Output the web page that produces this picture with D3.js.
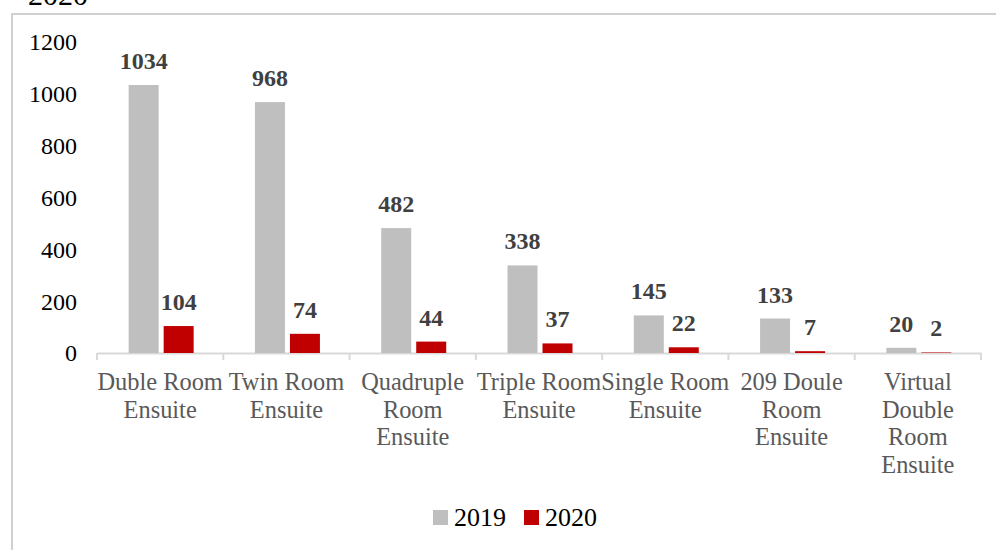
<!DOCTYPE html>
<html><head><meta charset="utf-8">
<script src="https://cdn.jsdelivr.net/npm/d3@7"></script>
<style>body{margin:0;background:#fff;} svg{display:block;}</style>
</head><body>
<svg id="c" width="996" height="550"></svg>
<script>
const categories = ["Duble Room Ensuite","Twin Room Ensuite","Quadruple Room Ensuite","Triple Room Ensuite","Single Room Ensuite","209 Doule Room Ensuite","Virtual Double Room Ensuite"];
const seriesNames = ["2019","2020"];
const values2019 = [1034,968,482,338,145,133,20];
const values2020 = [104,74,44,37,22,7,2];
const yTicks = [0,200,400,600,800,1000,1200];
const colors = ["#BFBFBF","#C00000"];

const svg = d3.select("#c");
const font = "'Liberation Serif','Times New Roman',serif";

// frame
svg.append("rect").attr("x",12).attr("y",14).attr("width",1100).attr("height",700)
  .attr("fill","none").attr("stroke","#D0D0D0").attr("stroke-width",2);
// cut-off title (as in reference)
svg.append("text").attr("x",28).attr("y",5).attr("font-family",font).attr("font-size",30)
  .attr("fill","#000").text("2020");

const x = d3.scaleBand().domain(categories).range([97,981]);
const y = d3.scaleLinear().domain([0,1200]).range([353,42]);

// y tick labels
svg.append("g").selectAll("text").data(yTicks).join("text")
  .attr("x",77).attr("y",d=>y(d)).attr("dy","0.35em").attr("text-anchor","end")
  .attr("font-family",font).attr("font-size",24).attr("fill","#000").text(d=>d);

// x axis
const xAxis = d3.axisBottom(x).tickSize(0).tickFormat("");
const gx = svg.append("g").attr("transform","translate(0,353)").call(xAxis);
gx.select(".domain").attr("stroke","#D9D9D9").attr("stroke-width",2);
const bounds = categories.map(c=>x(c)).concat([x.range()[1]]);
svg.append("g").selectAll("line").data(bounds).join("line")
  .attr("x1",d=>d).attr("x2",d=>d).attr("y1",353).attr("y2",360)
  .attr("stroke","#D9D9D9").attr("stroke-width",2);

// category labels with wrapping
const labels = svg.append("g").selectAll("text").data(categories).join("text")
  .attr("font-family",font).attr("font-size",24.4).attr("fill","#595959")
  .attr("text-anchor","middle");
labels.each(function(d){
  const t = d3.select(this);
  const cx = x(d)+x.bandwidth()/2;
  const words = d.split(" ");
  const lines = [];
  let cur = [];
  const probe = t.append("tspan");
  words.forEach(w=>{
    const test = cur.concat([w]).join(" ");
    probe.text(test);
    if (probe.node().getComputedTextLength() > x.bandwidth()+10 && cur.length){
      lines.push(cur.join(" ")); cur=[w];
    } else cur.push(w);
  });
  lines.push(cur.join(" "));
  probe.remove();
  lines.forEach((l,i)=>{
    t.append("tspan").attr("x",cx).attr("y",390+i*27.7).text(l);
  });
});

// bars
const barW = 30, gap = 5;
const series = [values2019, values2020];
series.forEach((vals,si)=>{
  const g = svg.append("g");
  const off = si===0 ? -(barW+gap/2) : gap/2;
  g.selectAll("rect").data(vals).join("rect")
    .attr("x",(d,i)=>x(categories[i])+x.bandwidth()/2+off+1)
    .attr("y",d=>y(d)).attr("width",barW).attr("height",d=>Math.max(0,y(0)-y(d)))
    .attr("fill",colors[si]);
  g.selectAll("text").data(vals).join("text")
    .attr("x",(d,i)=>x(categories[i])+x.bandwidth()/2+off+1+barW/2)
    .attr("y",d=>y(d)-16).attr("text-anchor","middle")
    .attr("font-family",font).attr("font-size",24).attr("font-weight","bold")
    .attr("fill","#404040").text(d=>d);
});

// legend
const lg = svg.append("g");
const lx = [433,524];
seriesNames.forEach((n,i)=>{
  lg.append("rect").attr("x",lx[i]).attr("y",510).attr("width",15).attr("height",15).attr("fill",colors[i]);
  lg.append("text").attr("x",lx[i]+21).attr("y",526).attr("font-family",font).attr("font-size",26)
    .attr("fill","#000").text(n);
});
</script>
</body></html>
